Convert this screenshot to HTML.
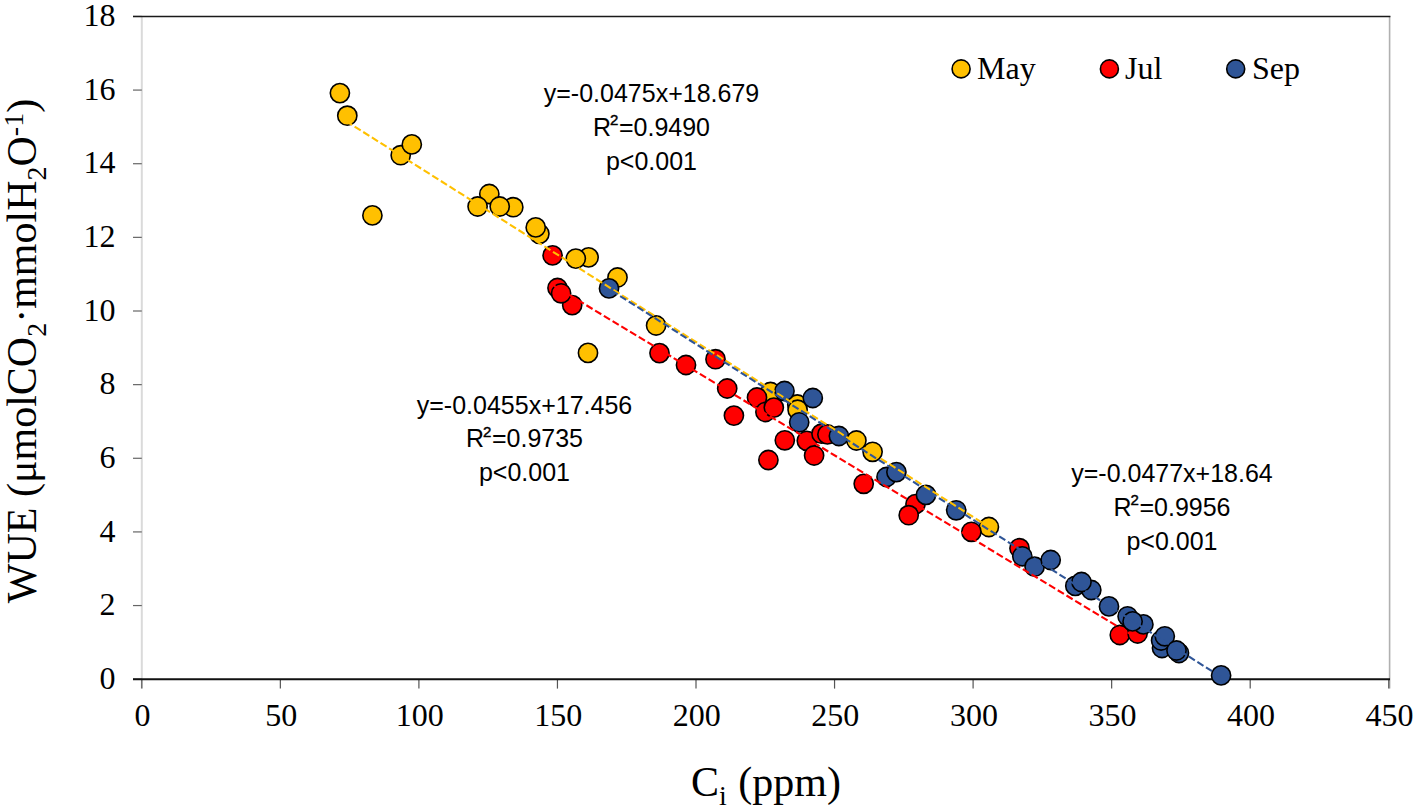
<!DOCTYPE html>
<html><head><meta charset="utf-8"><title>WUE vs Ci</title>
<style>
html,body{margin:0;padding:0;background:#fff;}
body{width:1416px;height:811px;overflow:hidden;font-family:"Liberation Serif",serif;}
svg{display:block;}
</style></head>
<body>
<svg width="1416" height="811" viewBox="0 0 1416 811">
<rect width="1416" height="811" fill="#fff"/>
<g shape-rendering="auto">
<line x1="141.8" y1="16" x2="141.8" y2="688.6" stroke="#dadada" stroke-width="2.0"/>
<line x1="1389.6" y1="16" x2="1389.6" y2="688.6" stroke="#b0b0b0" stroke-width="1.6"/>
<line x1="133" y1="679.20" x2="141.8" y2="679.20" stroke="#666" stroke-width="1.2"/>
<line x1="133" y1="605.56" x2="141.8" y2="605.56" stroke="#666" stroke-width="1.2"/>
<line x1="133" y1="531.92" x2="141.8" y2="531.92" stroke="#666" stroke-width="1.2"/>
<line x1="133" y1="458.28" x2="141.8" y2="458.28" stroke="#666" stroke-width="1.2"/>
<line x1="133" y1="384.64" x2="141.8" y2="384.64" stroke="#666" stroke-width="1.2"/>
<line x1="133" y1="311.00" x2="141.8" y2="311.00" stroke="#666" stroke-width="1.2"/>
<line x1="133" y1="237.36" x2="141.8" y2="237.36" stroke="#666" stroke-width="1.2"/>
<line x1="133" y1="163.72" x2="141.8" y2="163.72" stroke="#666" stroke-width="1.2"/>
<line x1="133" y1="90.08" x2="141.8" y2="90.08" stroke="#666" stroke-width="1.2"/>
<line x1="133" y1="16.44" x2="141.8" y2="16.44" stroke="#666" stroke-width="1.2"/>
<line x1="141.80" y1="679" x2="141.80" y2="688.6" stroke="#555" stroke-width="1.2"/>
<line x1="280.35" y1="679" x2="280.35" y2="688.6" stroke="#555" stroke-width="1.2"/>
<line x1="418.90" y1="679" x2="418.90" y2="688.6" stroke="#555" stroke-width="1.2"/>
<line x1="557.45" y1="679" x2="557.45" y2="688.6" stroke="#555" stroke-width="1.2"/>
<line x1="696.00" y1="679" x2="696.00" y2="688.6" stroke="#555" stroke-width="1.2"/>
<line x1="834.55" y1="679" x2="834.55" y2="688.6" stroke="#555" stroke-width="1.2"/>
<line x1="973.10" y1="679" x2="973.10" y2="688.6" stroke="#555" stroke-width="1.2"/>
<line x1="1111.65" y1="679" x2="1111.65" y2="688.6" stroke="#555" stroke-width="1.2"/>
<line x1="1250.20" y1="679" x2="1250.20" y2="688.6" stroke="#555" stroke-width="1.2"/>
<line x1="1388.75" y1="679" x2="1388.75" y2="688.6" stroke="#555" stroke-width="1.2"/>
<line x1="133" y1="16.45" x2="1390.4" y2="16.45" stroke="#1a1a1a" stroke-width="1.6"/>
<line x1="133" y1="679.2" x2="1390" y2="679.2" stroke="#111" stroke-width="2"/>
</g>
<g font-family="Liberation Serif, serif" font-size="32" fill="#000">
<text x="115.5" y="688.8" text-anchor="end">0</text>
<text x="115.5" y="615.2" text-anchor="end">2</text>
<text x="115.5" y="541.5" text-anchor="end">4</text>
<text x="115.5" y="467.9" text-anchor="end">6</text>
<text x="115.5" y="394.2" text-anchor="end">8</text>
<text x="115.5" y="320.6" text-anchor="end">10</text>
<text x="115.5" y="247.0" text-anchor="end">12</text>
<text x="115.5" y="173.3" text-anchor="end">14</text>
<text x="115.5" y="99.7" text-anchor="end">16</text>
<text x="115.5" y="26.0" text-anchor="end">18</text>
<text x="142.6" y="726" text-anchor="middle">0</text>
<text x="281.2" y="726" text-anchor="middle">50</text>
<text x="419.7" y="726" text-anchor="middle">100</text>
<text x="558.2" y="726" text-anchor="middle">150</text>
<text x="696.8" y="726" text-anchor="middle">200</text>
<text x="835.3" y="726" text-anchor="middle">250</text>
<text x="973.9" y="726" text-anchor="middle">300</text>
<text x="1112.5" y="726" text-anchor="middle">350</text>
<text x="1251.0" y="726" text-anchor="middle">400</text>
<text x="1389.5" y="726" text-anchor="middle">450</text>
</g>
<g font-family="Liberation Serif, serif" font-size="42" fill="#000">
<text x="766" y="796" text-anchor="middle">C<tspan font-size="28" dy="9">i</tspan><tspan dy="-9" dx="1"> (ppm)</tspan></text>
<text transform="translate(36,351) rotate(-90)" text-anchor="middle">WUE (μmolCO<tspan font-size="28" dy="10">2</tspan><tspan dy="-10">·mmolH</tspan><tspan font-size="28" dy="10">2</tspan><tspan dy="-10">O</tspan><tspan font-size="28" dy="-13">-1</tspan><tspan dy="13">)</tspan></text>
</g>
<g stroke="#000" stroke-width="1.6">
<circle cx="339.9" cy="93.1" r="9.6" fill="#FFC000"/>
<circle cx="347.3" cy="115.7" r="9.6" fill="#FFC000"/>
<circle cx="400.7" cy="155.2" r="9.6" fill="#FFC000"/>
<circle cx="411.8" cy="144.4" r="9.6" fill="#FFC000"/>
<circle cx="372.4" cy="215.4" r="9.6" fill="#FFC000"/>
<circle cx="489.3" cy="194.0" r="9.6" fill="#FFC000"/>
<circle cx="477.6" cy="206.5" r="9.6" fill="#FFC000"/>
<circle cx="513.3" cy="207.2" r="9.6" fill="#FFC000"/>
<circle cx="499.7" cy="206.5" r="9.6" fill="#FFC000"/>
<circle cx="539.4" cy="233.8" r="9.6" fill="#FFC000"/>
<circle cx="535.7" cy="227.4" r="9.6" fill="#FFC000"/>
<circle cx="588.6" cy="257.4" r="9.6" fill="#FFC000"/>
<circle cx="575.8" cy="258.6" r="9.6" fill="#FFC000"/>
<circle cx="617.5" cy="277.5" r="9.6" fill="#FFC000"/>
<circle cx="588.0" cy="352.9" r="9.6" fill="#FFC000"/>
<circle cx="656.1" cy="325.5" r="9.6" fill="#FFC000"/>
<circle cx="770.5" cy="392.0" r="9.6" fill="#FFC000"/>
<circle cx="797.3" cy="404.5" r="9.6" fill="#FFC000"/>
<circle cx="797.6" cy="409.7" r="9.6" fill="#FFC000"/>
<circle cx="872.6" cy="451.8" r="9.6" fill="#FFC000"/>
<circle cx="988.9" cy="527.0" r="9.6" fill="#FFC000"/>
<circle cx="552.6" cy="255.4" r="9.6" fill="#FF0000"/>
<circle cx="557.5" cy="288.0" r="9.6" fill="#FF0000"/>
<circle cx="572.2" cy="305.1" r="9.6" fill="#FF0000"/>
<circle cx="561.1" cy="293.3" r="9.6" fill="#FF0000"/>
<circle cx="659.5" cy="353.1" r="9.6" fill="#FF0000"/>
<circle cx="686.0" cy="365.0" r="9.6" fill="#FF0000"/>
<circle cx="715.5" cy="359.2" r="9.6" fill="#FF0000"/>
<circle cx="727.2" cy="388.5" r="9.6" fill="#FF0000"/>
<circle cx="733.9" cy="415.6" r="9.6" fill="#FF0000"/>
<circle cx="757.0" cy="397.5" r="9.6" fill="#FF0000"/>
<circle cx="765.4" cy="412.0" r="9.6" fill="#FF0000"/>
<circle cx="773.8" cy="407.6" r="9.6" fill="#FF0000"/>
<circle cx="768.4" cy="460.0" r="9.6" fill="#FF0000"/>
<circle cx="784.8" cy="440.3" r="9.6" fill="#FF0000"/>
<circle cx="806.8" cy="440.8" r="9.6" fill="#FF0000"/>
<circle cx="814.1" cy="455.5" r="9.6" fill="#FF0000"/>
<circle cx="821.5" cy="433.7" r="9.6" fill="#FF0000"/>
<circle cx="827.4" cy="434.4" r="9.6" fill="#FF0000"/>
<circle cx="863.7" cy="483.8" r="9.6" fill="#FF0000"/>
<circle cx="915.5" cy="504.1" r="9.6" fill="#FF0000"/>
<circle cx="908.7" cy="515.2" r="9.6" fill="#FF0000"/>
<circle cx="971.4" cy="531.8" r="9.6" fill="#FF0000"/>
<circle cx="1019.5" cy="548.2" r="9.6" fill="#FF0000"/>
<circle cx="1119.8" cy="635.0" r="9.6" fill="#FF0000"/>
<circle cx="1137.6" cy="633.5" r="9.6" fill="#FF0000"/>
<circle cx="609.0" cy="288.4" r="9.6" fill="#2F5597"/>
<circle cx="784.5" cy="391.0" r="9.6" fill="#2F5597"/>
<circle cx="812.8" cy="398.0" r="9.6" fill="#2F5597"/>
<circle cx="799.2" cy="422.3" r="9.6" fill="#2F5597"/>
<circle cx="838.9" cy="436.0" r="9.6" fill="#2F5597"/>
<circle cx="886.5" cy="477.0" r="9.6" fill="#2F5597"/>
<circle cx="896.4" cy="472.1" r="9.6" fill="#2F5597"/>
<circle cx="926.0" cy="494.9" r="9.6" fill="#2F5597"/>
<circle cx="956.2" cy="510.3" r="9.6" fill="#2F5597"/>
<circle cx="1022.3" cy="556.3" r="9.6" fill="#2F5597"/>
<circle cx="1034.6" cy="566.7" r="9.6" fill="#2F5597"/>
<circle cx="1050.7" cy="560.0" r="9.6" fill="#2F5597"/>
<circle cx="1075.3" cy="585.9" r="9.6" fill="#2F5597"/>
<circle cx="1091.3" cy="590.0" r="9.6" fill="#2F5597"/>
<circle cx="1081.5" cy="582.0" r="9.6" fill="#2F5597"/>
<circle cx="1109.0" cy="606.4" r="9.6" fill="#2F5597"/>
<circle cx="1127.6" cy="616.3" r="9.6" fill="#2F5597"/>
<circle cx="1143.4" cy="624.4" r="9.6" fill="#2F5597"/>
<circle cx="1132.6" cy="621.4" r="9.6" fill="#2F5597"/>
<circle cx="1162.0" cy="648.0" r="9.6" fill="#2F5597"/>
<circle cx="1179.0" cy="653.0" r="9.6" fill="#2F5597"/>
<circle cx="1161.1" cy="640.5" r="9.6" fill="#2F5597"/>
<circle cx="1164.8" cy="636.3" r="9.6" fill="#2F5597"/>
<circle cx="1176.5" cy="650.5" r="9.6" fill="#2F5597"/>
<circle cx="1221.1" cy="675.4" r="9.6" fill="#2F5597"/>
<circle cx="856.4" cy="440.5" r="9.6" fill="#FFC000"/>
</g>
<line x1="339.90" y1="117.27" x2="988.90" y2="526.90" stroke="#FFC000" stroke-width="2.1" stroke-dasharray="7.2 3.0" stroke-dashoffset="3.0"/>
<line x1="552.60" y1="284.83" x2="1137.60" y2="638.52" stroke="#FF0000" stroke-width="2.1" stroke-dasharray="7.2 3.0" stroke-dashoffset="1.3"/>
<line x1="609.00" y1="289.00" x2="1221.10" y2="676.96" stroke="#2F5597" stroke-width="2.1" stroke-dasharray="7.2 3.0" stroke-dashoffset="-3.0"/>
<g font-family="Liberation Sans, sans-serif" font-size="25" fill="#000" text-anchor="middle"><text x="651.5" y="102.4">y=-0.0475x+18.679</text><text x="651.5" y="136.0">R<tspan font-size="15" dx="-1" dy="-10.7" stroke="#000" stroke-width="0.45">2</tspan><tspan dx="0.6" dy="10.7">=0.9490</tspan></text><text x="651.5" y="169.6">p&lt;0.001</text></g>
<g font-family="Liberation Sans, sans-serif" font-size="25" fill="#000" text-anchor="middle"><text x="524.5" y="413.8">y=-0.0455x+17.456</text><text x="524.5" y="447.4">R<tspan font-size="15" dx="-1" dy="-10.7" stroke="#000" stroke-width="0.45">2</tspan><tspan dx="0.6" dy="10.7">=0.9735</tspan></text><text x="524.5" y="481.0">p&lt;0.001</text></g>
<g font-family="Liberation Sans, sans-serif" font-size="25" fill="#000" text-anchor="middle"><text x="1172" y="482.4">y=-0.0477x+18.64</text><text x="1172" y="516.0">R<tspan font-size="15" dx="-1" dy="-10.7" stroke="#000" stroke-width="0.45">2</tspan><tspan dx="0.6" dy="10.7">=0.9956</tspan></text><text x="1172" y="549.6">p&lt;0.001</text></g>
<g stroke="#000" stroke-width="1.6">
<circle cx="961.1" cy="68.9" r="9.0" fill="#FFC000"/>
<circle cx="1109.4" cy="68.9" r="9.0" fill="#FF0000"/>
<circle cx="1235.7" cy="68.9" r="9.0" fill="#2F5597"/>
</g>
<g font-family="Liberation Serif, serif" font-size="32" fill="#000">
<text x="977" y="79.2">May</text>
<text x="1125" y="79.2">Jul</text>
<text x="1252" y="79.2">Sep</text>
</g>
</svg>
</body></html>
